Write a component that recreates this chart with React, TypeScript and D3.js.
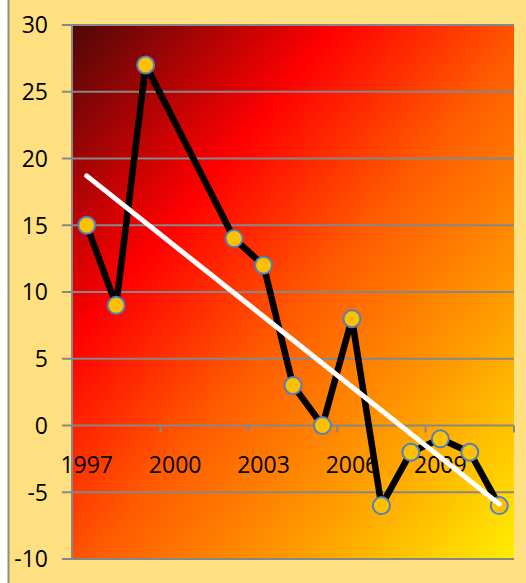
import * as d3 from 'd3';
import { useEffect, useRef } from 'react';

const years = ['1997', '1998', '1999', '2000', '2001', '2002', '2003', '2004', '2005', '2006', '2007', '2008', '2009', '2010', '2011'];
const values: (number | null)[] = [15, 9, 27, null, null, 14, 12, 3, 0, 8, -6, -2, -1, -2, -6];
const yTicks = [-10, -5, 0, 5, 10, 15, 20, 25, 30];
const xLabelEvery = 3;

export default function App() {
  const svgRef = useRef<SVGSVGElement>(null);

  useEffect(() => {
    const svg = d3.select(svgRef.current);
    svg.selectAll('*').remove();

    const W = 526;
    const H = 583;
    const left = 72;
    const right = 514;
    const top = 25;
    const bottom = 559;
    const font = '"Open Sans", "DejaVu Sans", sans-serif';
    const grey = '#878787';

    // chart area background
    svg.append('rect')
      .attr('x', 8.5).attr('y', -10)
      .attr('width', W + 20).attr('height', H + 20)
      .attr('fill', '#FFE081')
      .attr('stroke', '#8c8c8c').attr('stroke-width', 2);

    const defs = svg.append('defs');
    const grad = defs.append('linearGradient')
      .attr('id', 'plotGrad')
      .attr('x1', 0).attr('y1', 0).attr('x2', 1).attr('y2', 1);
    [
      [0, '#4e0808'],
      [0.3, '#ff0000'],
      [0.52, '#ff5a00'],
      [0.75, '#ff9c00'],
      [1, '#ffee00'],
    ].forEach(([o, c]) => grad.append('stop').attr('offset', o as number).attr('stop-color', c as string));

    const x = d3.scalePoint<string>().domain(years).range([left, right]).padding(0.5);
    const step = x.step();
    const y = d3.scaleLinear().domain([-10, 30]).range([bottom, top]);

    svg.append('rect')
      .attr('x', left).attr('y', top)
      .attr('width', right - left).attr('height', bottom - top)
      .attr('fill', 'url(#plotGrad)');

    // gridlines + y ticks
    yTicks.forEach(t => {
      svg.append('line')
        .attr('x1', left - 10).attr('x2', right)
        .attr('y1', y(t)).attr('y2', y(t))
        .attr('stroke', grey).attr('stroke-width', 2);
      svg.append('text')
        .attr('x', 48).attr('y', y(t))
        .attr('dy', '0.36em')
        .attr('text-anchor', 'end')
        .attr('font-family', font).attr('font-size', 23)
        .attr('fill', '#000')
        .text(t);
    });

    // y axis
    svg.append('line')
      .attr('x1', left).attr('x2', left)
      .attr('y1', top).attr('y2', bottom)
      .attr('stroke', grey).attr('stroke-width', 2);

    // x axis tick marks at category boundaries
    for (let i = xLabelEvery; i <= years.length; i += xLabelEvery) {
      const tx = left + i * step;
      svg.append('line')
        .attr('x1', tx).attr('x2', tx)
        .attr('y1', y(0)).attr('y2', y(0) + 7)
        .attr('stroke', grey).attr('stroke-width', 2);
    }

    years.forEach((yr, i) => {
      if (i % xLabelEvery !== 0) return;
      svg.append('text')
        .attr('x', x(yr)!).attr('y', 465)
        .attr('dy', '0.36em')
        .attr('text-anchor', 'middle')
        .attr('font-family', font).attr('font-size', 23)
        .attr('fill', '#000')
        .text(yr);
    });

    const pts = years
      .map((yr, i) => ({ yr, i, v: values[i] }))
      .filter(d => d.v !== null) as { yr: string; i: number; v: number }[];

    const line = d3.line<{ yr: string; v: number }>()
      .x(d => x(d.yr)!)
      .y(d => y(d.v));

    svg.append('path')
      .datum(pts)
      .attr('fill', 'none')
      .attr('stroke', '#000')
      .attr('stroke-width', 6.5)
      .attr('stroke-linejoin', 'miter')
      .attr('d', line);

    svg.selectAll('circle.pt')
      .data(pts)
      .enter()
      .append('circle')
      .attr('cx', d => x(d.yr)!)
      .attr('cy', d => y(d.v))
      .attr('r', 8.5)
      .attr('fill', '#FFC000')
      .attr('stroke', '#4F81BD')
      .attr('stroke-width', 2);

    // linear trendline (least squares on category index)
    const mx = d3.mean(pts, d => d.i)!;
    const my = d3.mean(pts, d => d.v)!;
    const sxy = d3.sum(pts, d => (d.i - mx) * (d.v - my));
    const sxx = d3.sum(pts, d => (d.i - mx) ** 2);
    const slope = sxy / sxx;
    const icpt = my - slope * mx;
    const i0 = 0;
    const i1 = years.length - 1;
    svg.append('line')
      .attr('x1', x(years[i0])!).attr('y1', y(icpt + slope * i0))
      .attr('x2', x(years[i1])!).attr('y2', y(icpt + slope * i1))
      .attr('stroke', '#fff')
      .attr('stroke-width', 5)
      .attr('stroke-linecap', 'round');
  }, []);

  return (
    <svg
      ref={svgRef}
      width={526}
      height={583}
      style={{ position: 'absolute', left: 0, top: 0 }}
    />
  );
}
